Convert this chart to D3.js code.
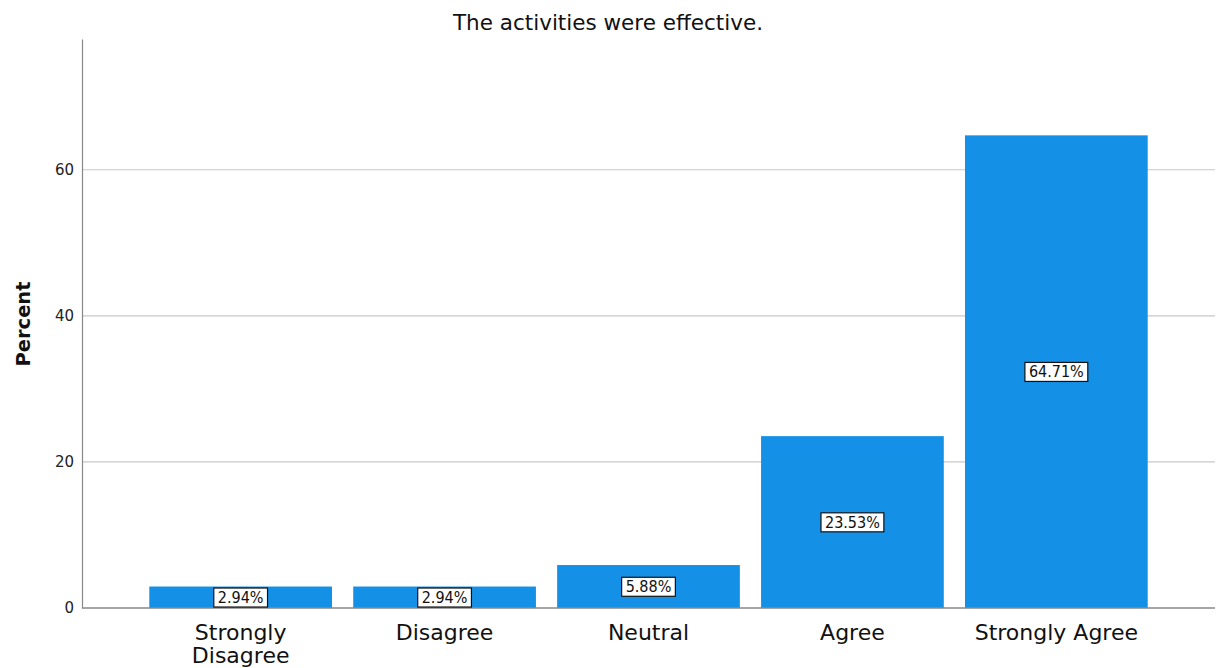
<!DOCTYPE html>
<html>
<head>
<meta charset="utf-8">
<script src="https://cdn.jsdelivr.net/npm/d3@7"></script>
<style>
  html, body { margin: 0; padding: 0; background: #fff; }
  svg { display: block; }
</style>
</head>
<body>
<svg id="chart" width="1225" height="668"></svg>
<script>
// Response categories and their share of respondents (%)
const categories = ["Strongly Disagree", "Disagree", "Neutral", "Agree", "Strongly Agree"];
const percents = [2.94, 2.94, 5.88, 23.53, 64.71];
const yTicks = [0, 20, 40, 60];
const titleText = "The activities were effective.";
const yLabel = "Percent";

const plot = { left: 82, right: 1215, top: 39, bottom: 608 };
const font = "'DejaVu Sans', Verdana, sans-serif";

const svg = d3.select("#chart");

const x = d3.scaleBand()
  .domain(categories)
  .range([plot.left, plot.right])
  .paddingInner(0.104)
  .paddingOuter(0.33);

const y = d3.scaleLinear()
  .domain([0, 77.9])
  .range([plot.bottom, plot.top]);

// Horizontal gridlines
svg.append("g")
  .selectAll("line")
  .data(yTicks.filter(d => d > 0))
  .join("line")
  .attr("x1", plot.left).attr("x2", plot.right)
  .attr("y1", d => y(d)).attr("y2", d => y(d))
  .attr("stroke", "#c8c8c8")
  .attr("stroke-width", 1.2);

// Y axis: line plus tick labels without tick marks
const yAxis = svg.append("g")
  .attr("transform", `translate(${plot.left},0)`)
  .call(d3.axisLeft(y).tickValues(yTicks).tickSize(0).tickPadding(8).tickFormat(d3.format("d")));
yAxis.select(".domain").attr("stroke", "#888").attr("stroke-width", 1.2);
yAxis.selectAll("text")
  .attr("font-family", font)
  .attr("font-size", 15)
  .attr("fill", "#222");

// Bars
svg.append("g")
  .selectAll("rect")
  .data(categories)
  .join("rect")
  .attr("x", d => x(d))
  .attr("width", x.bandwidth())
  .attr("y", (d, i) => y(percents[i]))
  .attr("height", (d, i) => y(0) - y(percents[i]))
  .attr("fill", "#1490e6");

// X axis baseline and category labels
const xAxis = svg.append("g")
  .attr("transform", `translate(0,${plot.bottom})`)
  .call(d3.axisBottom(x).tickSize(0).tickPadding(0));
xAxis.select(".domain").remove();
svg.append("line")
  .attr("x1", plot.left).attr("x2", plot.right)
  .attr("y1", plot.bottom).attr("y2", plot.bottom)
  .attr("stroke", "#888").attr("stroke-width", 1.5);
xAxis.selectAll("text").remove();
xAxis.selectAll(".tick").each(function(d) {
  const g = d3.select(this);
  const words = d === "Strongly Disagree" ? ["Strongly", "Disagree"] : [d];
  const t = g.append("text")
    .attr("font-family", font)
    .attr("font-size", 22)
    .attr("fill", "#111")
    .attr("text-anchor", "middle");
  words.forEach((w, k) => {
    t.append("tspan").attr("x", 0).attr("y", 32 + k * 23).text(w);
  });
});

// Boxed value labels in the middle of each bar
const labels = svg.append("g")
  .selectAll("g")
  .data(categories)
  .join("g")
  .attr("transform", (d, i) => `translate(${x(d) + x.bandwidth() / 2},${y(percents[i] / 2)})`);
labels.each(function(d, i) {
  const g = d3.select(this);
  const txt = g.append("text")
    .attr("font-family", "'DejaVu Sans Condensed', 'DejaVu Sans', sans-serif")
    .attr("font-size", 16)
    .attr("fill", "#111")
    .attr("text-anchor", "middle")
    .attr("dy", "0.36em")
    .text(percents[i].toFixed(2) + "%");
  const bb = txt.node().getBBox();
  g.insert("rect", "text")
    .attr("x", bb.x - 4).attr("y", bb.y)
    .attr("width", bb.width + 8).attr("height", bb.height)
    .attr("fill", "#fff")
    .attr("stroke", "#111")
    .attr("stroke-width", 1.2);
});

// Title
svg.append("text")
  .attr("x", 608).attr("y", 30)
  .attr("text-anchor", "middle")
  .attr("font-family", font)
  .attr("font-size", 21.5)
  .attr("fill", "#111")
  .text(titleText);

// Y axis title
svg.append("text")
  .attr("transform", `translate(30,${324}) rotate(-90)`)
  .attr("text-anchor", "middle")
  .attr("font-family", font)
  .attr("font-size", 19.5)
  .attr("font-weight", "bold")
  .attr("fill", "#111")
  .text(yLabel);
</script>
</body>
</html>
